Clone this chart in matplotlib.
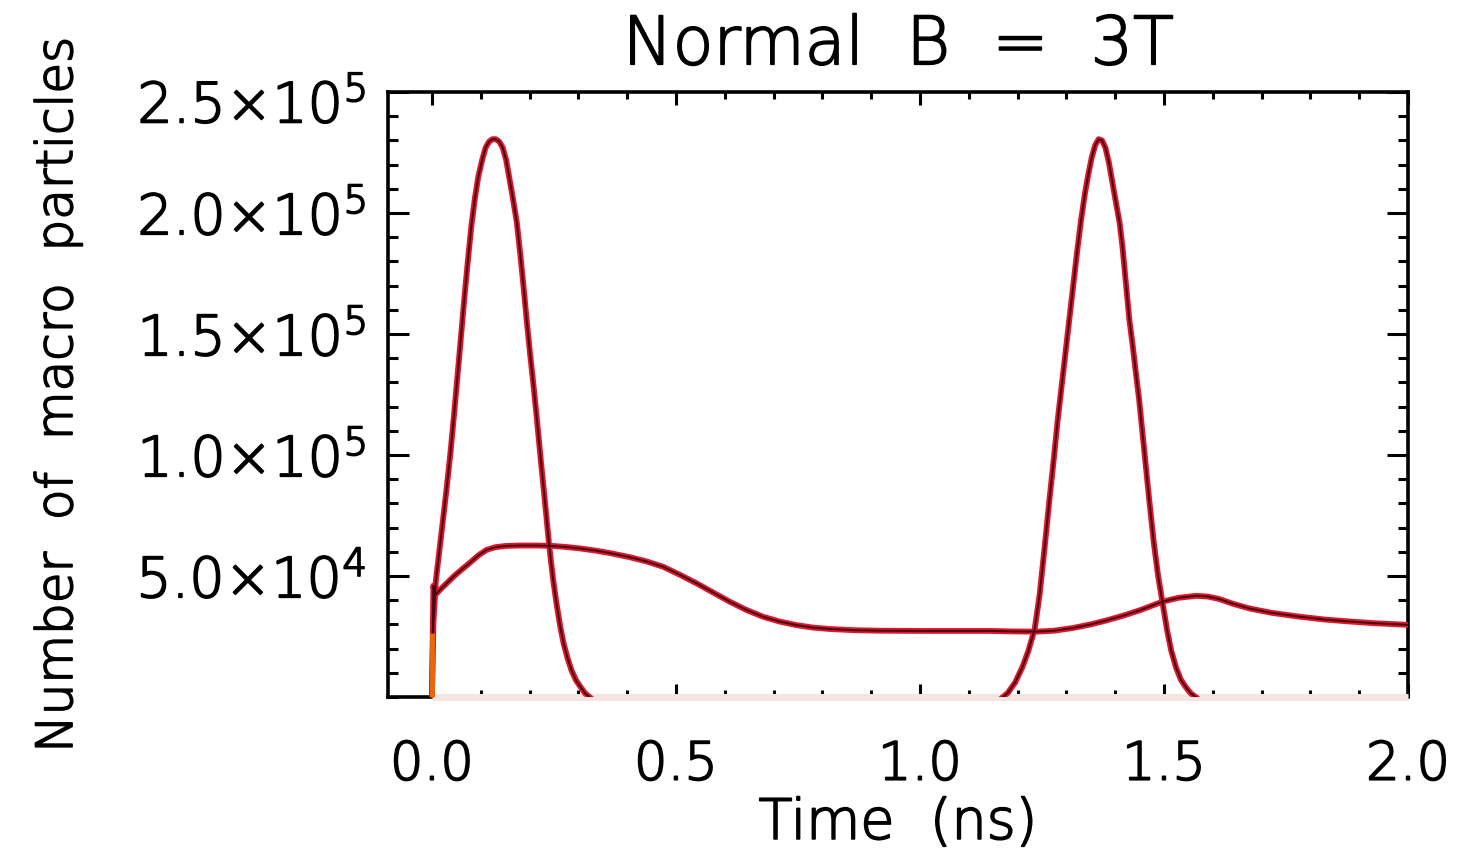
import matplotlib
matplotlib.use("Agg")
import matplotlib.pyplot as plt
import matplotlib.patheffects as pe
from matplotlib.ticker import MultipleLocator, FixedLocator

# ---------------- data ----------------
# Beam-bunch peaks (red): time in ns, macro particles (thousands)
peak1_t = [0.000, 0.003, 0.008, 0.015, 0.022, 0.030, 0.038, 0.045, 0.053, 0.060,
           0.067, 0.074, 0.081, 0.088, 0.095, 0.103, 0.110, 0.117, 0.124, 0.131,
           0.138, 0.145, 0.152, 0.159, 0.166, 0.174, 0.181, 0.188, 0.194, 0.201,
           0.208, 0.215, 0.223, 0.231, 0.240, 0.248, 0.255, 0.263, 0.270, 0.278,
           0.286, 0.295, 0.305, 0.314, 0.323]
peak1_k = [0, 30, 48, 60, 72, 86, 101, 116, 134, 150,
           166, 181, 195, 206, 215, 222, 227, 229.5, 230.5, 230.5,
           229.5, 227, 222, 214, 206, 196, 183, 169, 156, 142,
           129, 115, 98, 82, 63, 49, 39, 29, 22, 16,
           11, 7, 4, 1.5, 0]

peak2_t = [1.170, 1.180, 1.195, 1.210, 1.222, 1.235, 1.245, 1.255, 1.265, 1.274,
           1.282, 1.290, 1.298, 1.306, 1.314, 1.322, 1.330, 1.338, 1.345, 1.352,
           1.359, 1.366, 1.373, 1.380, 1.387, 1.394, 1.401, 1.409, 1.415, 1.422,
           1.429, 1.436, 1.443, 1.449, 1.456, 1.463, 1.470, 1.479, 1.488, 1.497,
           1.506, 1.515, 1.525, 1.535, 1.545, 1.555, 1.565]
peak2_k = [0, 1.7, 6, 12.4, 19, 28, 42, 61, 81, 98,
           114, 128, 142, 156, 170, 184, 197, 208, 216, 223,
           228, 230.5, 230, 227, 221, 213, 205, 196, 186, 171,
           156, 145, 133, 123, 109, 95, 81, 64, 50, 39,
           28, 19, 12, 7, 4, 1.5, 0]

# Electron cloud build-up (dark curve)
cloud_t = [0.000, 0.003, 0.006, 0.020, 0.044, 0.060, 0.078, 0.095, 0.112, 0.130,
           0.150, 0.180, 0.215, 0.248, 0.275, 0.303, 0.335, 0.364, 0.405, 0.440,
           0.474, 0.508, 0.542, 0.576, 0.610, 0.644, 0.678, 0.712, 0.747, 0.780,
           0.815, 0.866, 0.917, 1.000, 1.054, 1.100, 1.143, 1.190, 1.238, 1.275,
           1.313, 1.350, 1.385, 1.416, 1.450, 1.497, 1.530, 1.566, 1.590, 1.613,
           1.640, 1.675, 1.720, 1.777, 1.830, 1.880, 1.930, 1.982, 2.000]
cloud_k = [0, 46, 42, 45, 49.7, 52.5, 55.5, 58.5, 60.8, 61.9,
           62.4, 62.6, 62.6, 62.4, 62.0, 61.4, 60.5, 59.5, 57.8, 56.0,
           53.8, 50.5, 47.0, 43.2, 39.4, 36.0, 33.2, 31.2, 29.7, 28.7,
           28.1, 27.6, 27.4, 27.3, 27.3, 27.3, 27.3, 27.1, 27.0, 27.4,
           28.5, 30.0, 31.8, 33.6, 35.8, 39.4, 41.0, 41.8, 41.5, 40.5,
           38.6, 36.6, 34.8, 33.2, 32.0, 31.2, 30.5, 30.0, 29.8]

# Initial spike at t = 0 (orange) and zero baseline
spike_t = [0.0, 0.0]
spike_k = [0, 26.5]
base_t = [0.0, 2.0]
base_k = [0, 0]

x_ticks = [0.0, 0.5, 1.0, 1.5, 2.0]
x_ticklabels = ["0.0", "0.5", "1.0", "1.5", "2.0"]
y_ticks = [5e4, 1e5, 1.5e5, 2e5, 2.5e5]
y_ticklabels = [r"$\mathregular{5.0{\times}10^{4}}$", r"$\mathregular{1.0{\times}10^{5}}$",
                r"$\mathregular{1.5{\times}10^{5}}$", r"$\mathregular{2.0{\times}10^{5}}$",
                r"$\mathregular{2.5{\times}10^{5}}$"]

title = "Normal  B  =  3T"
xlabel = "Time  (ns)"
ylabel = "Number  of  macro  particles"

# ---------------- figure ----------------
plt.rcParams['font.family'] = ['DejaVu Sans']
plt.rcParams['font.weight'] = 'light'
fig = plt.figure(figsize=(14.68, 8.51), dpi=100)
fig.patch.set_facecolor('white')
ax = fig.add_axes([388/1468, 1-697/851, (1408-388)/1468, (697-92)/851])

RED = '#e3142c'
DARK = '#3b0a12'

def k(v):
    return [x * 1e3 for x in v]

ax.plot(base_t, k(base_k), color='#f5e4df', lw=5, zorder=2.6, clip_on=False,
        solid_capstyle='butt')
for t, y in [(peak1_t, peak1_k), (peak2_t, peak2_k), (cloud_t, cloud_k)]:
    ax.plot(t, k(y), color=RED, lw=4.2, zorder=3, solid_joinstyle='round')
    ax.plot(t, k(y), color=DARK, lw=1.4, zorder=3.1, solid_joinstyle='round')
ax.plot(spike_t, k(spike_k), color='#e8680c', lw=3.5, zorder=3.2, clip_on=False,
        solid_capstyle='butt')

ax.set_xlim(-0.09, 2.0)
ax.set_ylim(0, 2.5e5)

ax.xaxis.set_major_locator(FixedLocator(x_ticks))
ax.set_xticklabels(x_ticklabels)
ax.xaxis.set_minor_locator(MultipleLocator(0.1))
ax.yaxis.set_major_locator(FixedLocator(y_ticks))
# the top label sits lower than its tick in the reference: drawn separately
ax.set_yticklabels(y_ticklabels[:-1] + [""])
ax.yaxis.set_minor_locator(MultipleLocator(1e4))

for s in ax.spines.values():
    s.set_linewidth(2.6)
    s.set_color('black')
ax.spines['bottom'].set_bounds(-0.09, 0.0)

YPAD = 16
ax.tick_params(axis='x', which='major', direction='in', length=9.5, width=2.2,
               top=True, bottom=True, labelsize=38, pad=30, colors='black')
ax.tick_params(axis='x', which='minor', direction='in', length=5, width=2.2,
               top=True, bottom=True)
ax.tick_params(axis='y', which='major', direction='in', length=15, width=2.2,
               left=True, right=True, labelsize=40, pad=YPAD)
ax.tick_params(axis='y', which='minor', direction='in', length=7.2, width=2.2,
               left=True, right=True)

top_lab = ax.annotate(y_ticklabels[-1], xy=(0, y_ticks[-1]),
                      xycoords=('axes fraction', 'data'),
                      xytext=(-YPAD, -11), textcoords='offset points',
                      ha='right', va='center', fontsize=40, annotation_clip=False)

ttl = ax.set_title(title, fontsize=48, pad=20, fontweight='light')
xl = ax.set_xlabel(xlabel, fontsize=40, labelpad=4, fontweight='light')
yl = ax.set_ylabel(ylabel, fontsize=36, fontweight='light')
ax.yaxis.set_label_coords(-0.30, 0.50)

stroke = [pe.withStroke(linewidth=1.3, foreground='black')]
for txt in [ttl, xl, yl, top_lab] + ax.get_xticklabels() + ax.get_yticklabels():
    txt.set_path_effects(stroke)

fig.savefig("out.png", dpi=100, facecolor='white')
